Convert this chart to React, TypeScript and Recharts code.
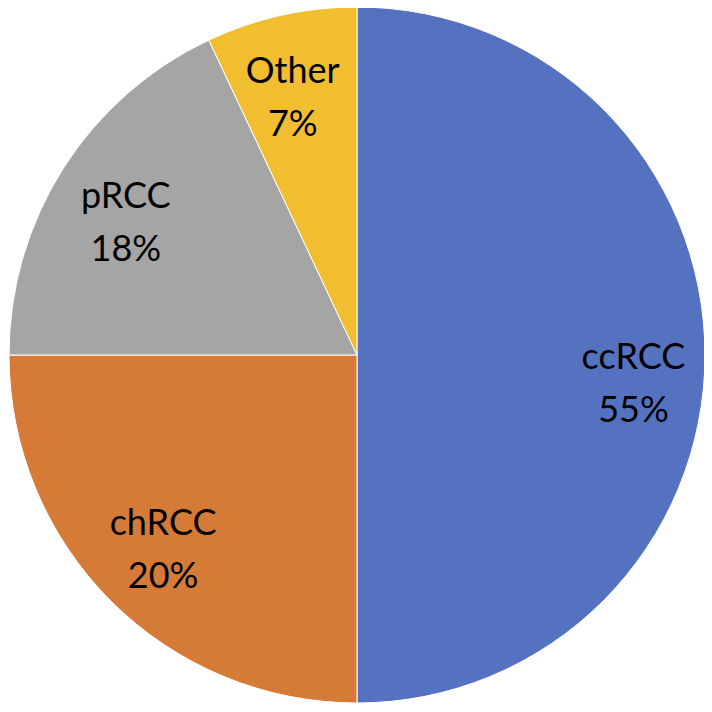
import { Cell, Pie, PieChart } from 'recharts';

const subtypes = ['ccRCC', 'chRCC', 'pRCC', 'Other'];
const shares = [50, 25, 18, 7];
const shareLabels = ['55%', '20%', '18%', '7%'];
const colors = ['#5572C1', '#D57B37', '#A5A5A5', '#F0BE2F'];

const data = subtypes.map((name, i) => ({ name, value: shares[i], label: shareLabels[i] }));

// small hand nudges so the labels sit where the original placed them
const labelNudge: Record<string, [number, number]> = {
  ccRCC: [5, 28],
  chRCC: [-2, 2],
  pRCC: [-2, 12],
  Other: [-5, 7],
};

const RADIAN = Math.PI / 180;

function SliceLabel(props: any) {
  const { cx, cy, midAngle, outerRadius, index } = props;
  const r = outerRadius * 0.78;
  const [nx, ny] = labelNudge[subtypes[index]] ?? [0, 0];
  const x = cx + r * Math.cos(-midAngle * RADIAN) + nx;
  const y = cy + r * Math.sin(-midAngle * RADIAN) + ny;
  return (
    <text
      x={x}
      y={y}
      textAnchor="middle"
      fill="#000"
      fontFamily="Lato, 'Open Sans', sans-serif"
      fontSize={36}
    >
      <tspan x={x} y={y - 14}>{subtypes[index]}</tspan>
      <tspan x={x} y={y + 39}>{shareLabels[index]}</tspan>
    </text>
  );
}

export default function App() {
  return (
    <div style={{ width: 700, height: 700 }}>
      <PieChart width={700} height={700} margin={{ top: 0, right: 0, bottom: 0, left: 0 }}>
        <Pie
          data={data}
          dataKey="value"
          nameKey="name"
          cx={349}
          cy={347}
          outerRadius={348}
          startAngle={90}
          endAngle={-270}
          stroke="#fff"
          strokeWidth={1}
          label={SliceLabel}
          labelLine={false}
          isAnimationActive={false}
        >
          {data.map((entry, index) => (
            <Cell key={entry.name} fill={colors[index]} />
          ))}
        </Pie>
      </PieChart>
    </div>
  );
}
